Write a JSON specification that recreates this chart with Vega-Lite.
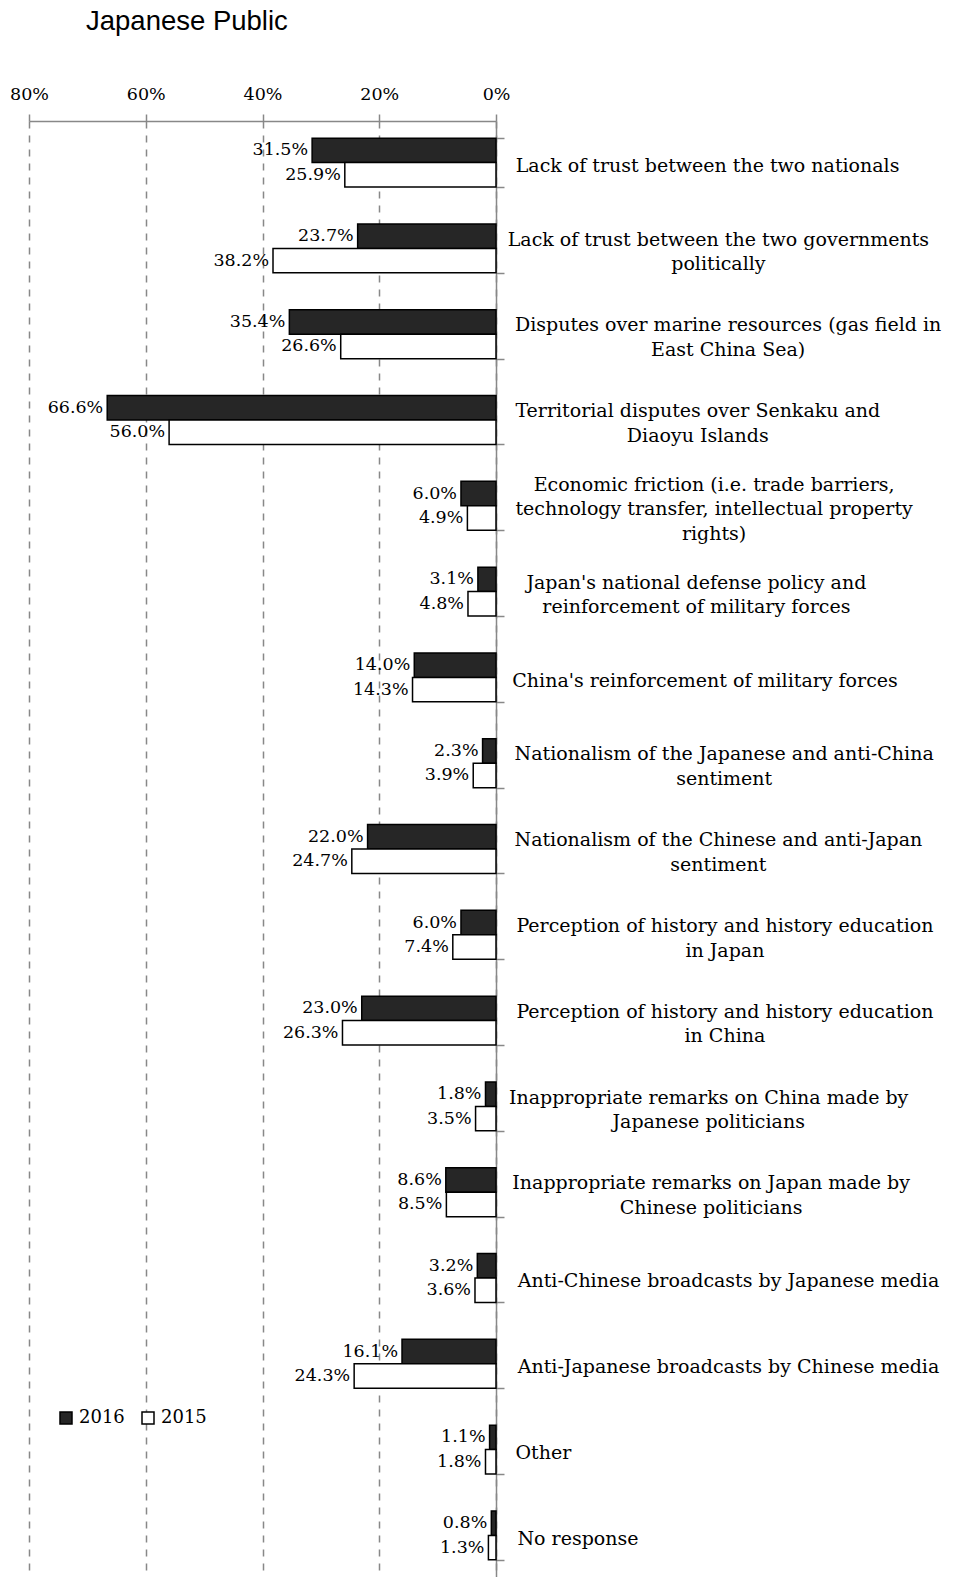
{
  "$schema": "https://vega.github.io/schema/vega-lite/v6.json",
  "width": 467,
  "height": 1456,
  "autosize": {"type": "none"},
  "padding": {"left": 29, "top": 121, "right": 460, "bottom": 0},
  "background": "white",
  "title": {
    "text": "Japanese Public",
    "anchor": "start",
    "frame": "group",
    "dx": 57,
    "offset": 50,
    "font": "Liberation Sans",
    "fontSize": 27.5,
    "fontWeight": "normal",
    "color": "black"
  },
  "config": {
    "view": {"stroke": null},
    "font": "DejaVu Serif"
  },
  "data": {
    "values": [
      {"category": "Lack of trust between the  two nationals", "year": "2016", "value": 0.315},
      {"category": "Lack of trust between the  two nationals", "year": "2015", "value": 0.259},
      {"category": "Lack of trust between the two governments|politically", "year": "2016", "value": 0.237},
      {"category": "Lack of trust between the two governments|politically", "year": "2015", "value": 0.382},
      {"category": "Disputes over marine resources (gas field in|East China Sea)", "year": "2016", "value": 0.354},
      {"category": "Disputes over marine resources (gas field in|East China Sea)", "year": "2015", "value": 0.266},
      {"category": "Territorial disputes over Senkaku and|Diaoyu Islands", "year": "2016", "value": 0.666},
      {"category": "Territorial disputes over Senkaku and|Diaoyu Islands", "year": "2015", "value": 0.560},
      {"category": "Economic friction (i.e. trade barriers,|technology transfer, intellectual property|rights)", "year": "2016", "value": 0.060},
      {"category": "Economic friction (i.e. trade barriers,|technology transfer, intellectual property|rights)", "year": "2015", "value": 0.049},
      {"category": "Japan's national defense policy and|reinforcement of military forces", "year": "2016", "value": 0.031},
      {"category": "Japan's national defense policy and|reinforcement of military forces", "year": "2015", "value": 0.048},
      {"category": "China's reinforcement of military forces", "year": "2016", "value": 0.140},
      {"category": "China's reinforcement of military forces", "year": "2015", "value": 0.143},
      {"category": "Nationalism of the Japanese and anti-China|sentiment", "year": "2016", "value": 0.023},
      {"category": "Nationalism of the Japanese and anti-China|sentiment", "year": "2015", "value": 0.039},
      {"category": "Nationalism of the Chinese and anti-Japan|sentiment", "year": "2016", "value": 0.220},
      {"category": "Nationalism of the Chinese and anti-Japan|sentiment", "year": "2015", "value": 0.247},
      {"category": "Perception of history and history education|in Japan", "year": "2016", "value": 0.060},
      {"category": "Perception of history and history education|in Japan", "year": "2015", "value": 0.074},
      {"category": "Perception of history and history education|in China", "year": "2016", "value": 0.230},
      {"category": "Perception of history and history education|in China", "year": "2015", "value": 0.263},
      {"category": "Inappropriate remarks on China made by|Japanese politicians", "year": "2016", "value": 0.018},
      {"category": "Inappropriate remarks on China made by|Japanese politicians", "year": "2015", "value": 0.035},
      {"category": "Inappropriate remarks on Japan made by|Chinese politicians", "year": "2016", "value": 0.086},
      {"category": "Inappropriate remarks on Japan made by|Chinese politicians", "year": "2015", "value": 0.085},
      {"category": "Anti-Chinese broadcasts by Japanese media", "year": "2016", "value": 0.032},
      {"category": "Anti-Chinese broadcasts by Japanese media", "year": "2015", "value": 0.036},
      {"category": "Anti-Japanese broadcasts by Chinese media", "year": "2016", "value": 0.161},
      {"category": "Anti-Japanese broadcasts by Chinese media", "year": "2015", "value": 0.243},
      {"category": "Other", "year": "2016", "value": 0.011},
      {"category": "Other", "year": "2015", "value": 0.018},
      {"category": "No response", "year": "2016", "value": 0.008},
      {"category": "No response", "year": "2015", "value": 0.013}
    ]
  },
  "encoding": {
    "y": {
      "field": "category",
      "type": "nominal",
      "sort": null,
      "scale": {"paddingInner": 0.43},
      "axis": {
        "orient": "right",
        "title": null,
        "domainColor": "#888888",
        "domainWidth": 1.5,
        "tickColor": "#888888",
        "tickWidth": 1.5,
        "tickSize": 8,
        "tickBand": "extent",
        "labelAlign": "center",
        "labelPadding": {"expr": "15 + 0.5 * max(11.55 * length(split(datum.value, '|')[0] || '') - 5.05 * length(replace(split(datum.value, '|')[0] || '', /[^ilrtfj()., -]/g, '')), 11.55 * length(split(datum.value, '|')[1] || '') - 5.05 * length(replace(split(datum.value, '|')[1] || '', /[^ilrtfj()., -]/g, '')), 11.55 * length(split(datum.value, '|')[2] || '') - 5.05 * length(replace(split(datum.value, '|')[2] || '', /[^ilrtfj()., -]/g, '')))"},
        "labelOffset": {"expr": "3 - 12.25 * (length(split(datum.value, '|')) - 1)"},
        "labelFont": "DejaVu Serif",
        "labelFontSize": 19,
        "labelColor": "black",
        "labelLimit": 600,
        "labelLineHeight": 24.5,
        "labelExpr": "split(datum.label, '|')",
        "grid": false
      }
    },
    "yOffset": {
      "field": "year",
      "type": "nominal",
      "sort": ["2016", "2015"]
    },
    "x": {
      "field": "value",
      "type": "quantitative",
      "scale": {"domain": [0, 0.8], "reverse": true, "nice": false},
      "axis": {
        "orient": "top",
        "title": null,
        "format": ".0%",
        "values": [0, 0.2, 0.4, 0.6, 0.8],
        "labelFlush": false,
        "domainColor": "#888888",
        "domainWidth": 1.5,
        "tickColor": "#888888",
        "tickWidth": 1.5,
        "tickSize": 7,
        "labelPadding": 11,
        "labelFont": "DejaVu Serif",
        "labelFontSize": 17.5,
        "labelColor": "black",
        "grid": true,
        "gridColor": "#888888",
        "gridWidth": 1.5,
        "gridDash": [7, 7]
      }
    }
  },
  "layer": [
    {
      "mark": {"type": "bar", "stroke": "black", "strokeWidth": 1.5},
      "encoding": {
        "fill": {
          "field": "year",
          "type": "nominal",
          "scale": {"domain": ["2016", "2015"], "range": ["#262626", "white"]},
          "legend": {
            "title": null,
            "orient": "none",
            "direction": "horizontal",
            "legendX": 28,
            "legendY": 1288,
            "symbolType": "square",
            "symbolSize": 144,
            "symbolStrokeColor": "black",
            "symbolStrokeWidth": 1.5,
            "labelFont": "DejaVu Serif",
            "labelFontSize": 18,
            "labelColor": "black",
            "labelOffset": 4,
            "columnPadding": 14
          }
        }
      }
    },
    {
      "mark": {
        "type": "text",
        "align": "right",
        "baseline": "middle",
        "dx": -4,
        "font": "DejaVu Serif",
        "fontSize": 17.5,
        "color": "black"
      },
      "encoding": {
        "text": {"field": "value", "type": "quantitative", "format": ".1%"}
      }
    }
  ]
}
